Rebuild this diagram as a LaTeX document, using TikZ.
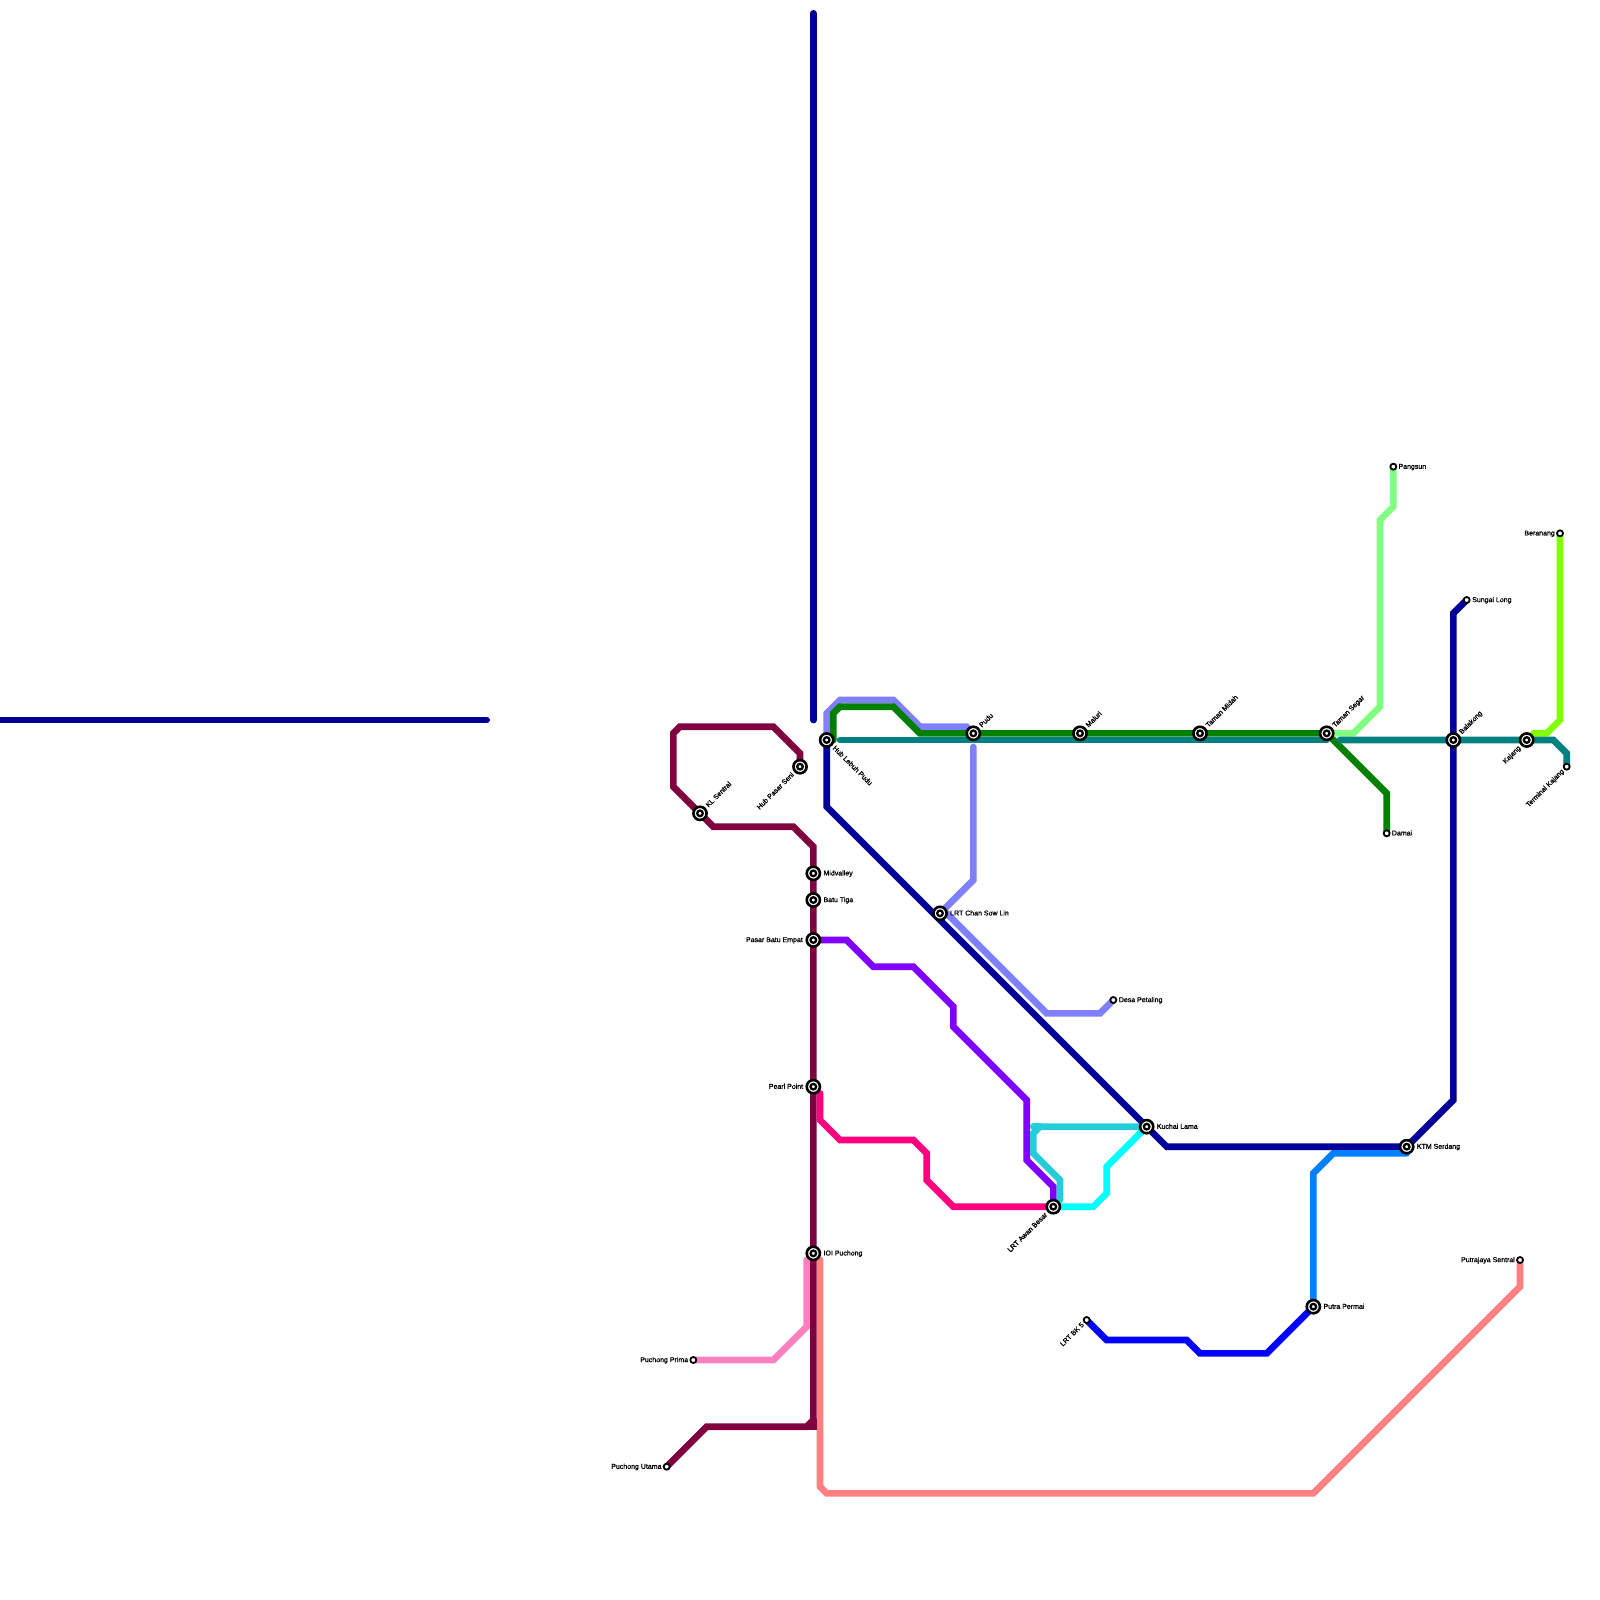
\documentclass[tikz,border=0pt]{standalone}
\usepackage{fontspec}
\setmainfont{Liberation Sans}
\newfontfamily\stationfont[FakeBold=1.2]{Liberation Sans}
\usetikzlibrary{backgrounds}
\definecolor{cNavy}{HTML}{000099}
\definecolor{cMaroon}{HTML}{800040}
\definecolor{cPeri}{HTML}{8080FF}
\definecolor{cGreen}{HTML}{008000}
\definecolor{cTeal}{HTML}{008080}
\definecolor{cLime}{HTML}{80FF00}
\definecolor{cMint}{HTML}{80FF80}
\definecolor{cPurple}{HTML}{8000FF}
\definecolor{cHot}{HTML}{FF0080}
\definecolor{cAqua}{HTML}{26CCD9}
\definecolor{cCyan}{HTML}{00FFFF}
\definecolor{cAzure}{HTML}{0080FF}
\definecolor{cBlue}{HTML}{0000FF}
\definecolor{cPink}{HTML}{FF80C0}
\definecolor{cSalmon}{HTML}{FF8080}
\tikzset{
  x=1pt,y=-1pt,
  rail/.style={line width=6.67pt,line cap=round,line join=miter,miter limit=4},
  hub/.style={circle,draw=black,fill=white,line width=2.6pt,minimum size=13.2pt,inner sep=0pt,
    path picture={\draw[black,line width=2.3pt] (path picture bounding box.center) circle[radius=2.8pt];}},
  halt/.style={circle,draw=black,fill=white,line width=1.8pt,minimum size=6pt,inner sep=0pt},
  tag/.style={inner sep=0pt,font=\stationfont\fontsize{7pt}{8pt}\selectfont,text height=4.2pt,text depth=0pt},
  tr/.style={tag,anchor=west},
  tl/.style={tag,anchor=east},
  tru/.style={tag,anchor=west,rotate=45},
  trd/.style={tag,anchor=west,rotate=-45},
  tld/.style={tag,anchor=east,rotate=45}
}
\begin{document}
\begin{tikzpicture}
\useasboundingbox (0,0) rectangle (1600,1600);
% stations
\node[hub] (lebuh) at (826.67,740) {};
\node[hub] (seni) at (800,766.67) {};
\node[hub] (kl) at (700,813.33) {};
\node[hub] (mid) at (813.33,873.33) {};
\node[hub] (batu) at (813.33,900) {};
\node[hub] (pasar) at (813.33,940) {};
\node[hub] (pearl) at (813.33,1086.67) {};
\node[hub] (ioi) at (813.33,1253.33) {};
\node[hub] (pudu) at (973.33,733.33) {};
\node[hub] (maluri) at (1080,733.33) {};
\node[hub] (midah) at (1200,733.33) {};
\node[hub] (segar) at (1326.67,733.33) {};
\node[hub] (balakong) at (1453.33,740) {};
\node[hub] (kajang) at (1526.67,740) {};
\node[hub] (chan) at (940,913.33) {};
\node[hub] (kuchai) at (1146.67,1126.67) {};
\node[hub] (awan) at (1053.33,1206.67) {};
\node[hub] (serdang) at (1406.67,1146.67) {};
\node[hub] (putra) at (1313.33,1306.67) {};
\node[halt] (termk) at (1566.67,766.67) {};
\node[halt] (beranang) at (1560,533.33) {};
\node[halt] (sungai) at (1466.67,600) {};
\node[halt] (damai) at (1386.67,833.33) {};
\node[halt] (pangsun) at (1393.33,466.67) {};
\node[halt] (desa) at (1113.33,1000) {};
\node[halt] (bk) at (1086.67,1320) {};
\node[halt] (putrajaya) at (1520,1260) {};
\node[halt] (prima) at (693.33,1360) {};
\node[halt] (utama) at (666.67,1466.67) {};
% free ends
\coordinate (northEnd) at (813.33,13.33);
\coordinate (northStop) at (813.33,720);
\coordinate (westEnd) at (-10,720);
\coordinate (westStop) at (486.67,720);
\begin{scope}[on background layer]
\draw[rail,cNavy] (northEnd) -- (northStop);
\draw[rail,cNavy] (westEnd) -- (westStop);
\draw[rail,cSalmon] (820,1260) -- (820,1486.67) -- (826.67,1493.33) -- (1313.33,1493.33) -- (1520,1286.67) -- (putrajaya.center);
\draw[rail,cPink] (prima.center) -- (773.33,1360) -- (806.67,1326.67) -- (806.67,1260);
\draw[rail,cMaroon] (seni.center) -- (800,753.33) -- (773.33,726.67) -- (680,726.67) -- (673.33,733.33) -- (673.33,786.67) -- (kl.center) -- (713.33,826.67) -- (793.33,826.67) -- (813.33,846.67) -- (mid.center) -- (batu.center) -- (pasar.center) -- (pearl.center) -- (ioi.center) -- (813.33,1420) -- (806.67,1426.67) -- (706.67,1426.67) -- (utama.center);
\draw[rail,cMaroon] (813.33,1420) -- (813.33,1426.67) -- (806.67,1426.67);
\draw[rail,cPeri] (lebuh.center) -- (826.67,713.33) -- (840,700) -- (893.33,700) -- (920,726.67) -- (966.67,726.67) -- (pudu.center);
\draw[rail,cPeri] (973.33,747) -- (973.33,880) -- (chan.center);
\draw[rail,cPeri] (946.67,913.33) -- (1046.67,1013.33) -- (1100,1013.33) -- (desa.center);
\draw[rail,cGreen] (833.33,740) -- (833.33,713.33) -- (840,706.67) -- (893.33,706.67) -- (920,733.33) -- (pudu.center) -- (maluri.center) -- (midah.center) -- (segar.center);
\draw[rail,cGreen] (segar.center) -- (1333.33,740) -- (1386.67,793.33) -- (damai.center);
\draw[rail,cMint] (pangsun.center) -- (1393.33,506.67) -- (1380,520) -- (1380,706.67) -- (1353.33,733.33) -- (segar.center);
\draw[rail,cLime] (beranang.center) -- (1560,720) -- (1546.67,733.33) -- (1533.33,733.33);
\draw[rail,cNavy] (lebuh.center) -- (826.67,806.67) -- (kuchai.center) -- (1166.67,1146.67) -- (serdang.center) -- (1453.33,1100) -- (balakong.center) -- (1453.33,613.33) -- (sungai.center);
\draw[rail,cTeal] (840,740) -- (segar.center |- lebuh);
\draw[rail,cTeal] (1340,740) -- (balakong.center) -- (kajang.center) -- (1553.33,740) -- (1566.67,753.33) -- (termk.center);
\draw[rail,cPurple] (pasar.center) -- (846.67,940) -- (873.33,966.67) -- (913.33,966.67) -- (953.33,1006.67) -- (953.33,1026.67) -- (1026.67,1100) -- (1026.67,1160) -- (1053.33,1186.67) -- (awan.center);
\draw[rail,cHot] (820,1093.33) -- (820,1120) -- (840,1140) -- (913.33,1140) -- (926.67,1153.33) -- (926.67,1180) -- (953.33,1206.67) -- (awan.center);
\draw[rail,cAqua] (kuchai.center) -- (1040,1126.67) -- (1033.33,1133.33) -- (1033.33,1153.33) -- (1060,1180) -- (1060,1200);
\draw[rail,cAqua] (1040,1126.67) -- (1033.33,1126.67);
\draw[rail,cCyan] (awan.center) -- (1093.33,1206.67) -- (1106.67,1193.33) -- (1106.67,1166.67) -- (kuchai.center);
\draw[rail,cAzure] (putra.center) -- (1313.33,1173.33) -- (1333.33,1153.33) -- (1406.67,1153.33);
\draw[rail,cBlue] (bk.center) -- (1106.67,1340) -- (1186.67,1340) -- (1200,1353.33) -- (1266.67,1353.33) -- (putra.center);
\end{scope}
% labels
\node[tr] (lMid) at (823.33,873.33) {Midvalley};
\node[tr] (lBatu) at (823.33,900) {Batu Tiga};
\node[tl] (lPasar) at (803,940) {Pasar Batu Empat};
\node[tl] (lPearl) at (803.33,1086.67) {Pearl Point};
\node[tr] (lIoi) at (823.33,1253.33) {IOI Puchong};
\node[trd] (lLebuh) at (833.67,747) {Hub Lebuh Pudu};
\node[tld] (lSeni) at (793,773.67) {Hub Pasar Seni};
\node[tru] (lKl) at (707,806.33) {KL Sentral};
\node[tru] (lPudu) at (980.33,726.33) {Pudu};
\node[tru] (lMaluri) at (1087,726.33) {Maluri};
\node[tru] (lMidah) at (1207,726.33) {Taman Midah};
\node[tru] (lSegar) at (1333.67,726.33) {Taman Segar};
\node[tru] (lBalakong) at (1460.33,733) {Balakong};
\node[tld] (lKajang) at (1519.67,747) {Kajang};
\node[tld] (lTermk) at (1563,770.33) {Terminal Kajang};
\node[tl] (lBeranang) at (1555,533.33) {Beranang};
\node[tr] (lSungai) at (1472,600) {Sungai Long};
\node[tr] (lDamai) at (1391.67,833.33) {Damai};
\node[tr] (lPangsun) at (1398.33,466.67) {Pangsun};
\node[tr] (lChan) at (950,913.33) {LRT Chan Sow Lin};
\node[tr] (lDesa) at (1118.67,1000) {Desa Petaling};
\node[tr] (lKuchai) at (1156.67,1126.67) {Kuchai Lama};
\node[tld] (lAwan) at (1046.33,1213.67) {LRT Awan Besar};
\node[tr] (lSerdang) at (1416.67,1146.67) {KTM Serdang};
\node[tr] (lPutra) at (1323.33,1306.67) {Putra Permai};
\node[tld] (lBk) at (1083,1323.67) {LRT BK 5};
\node[tl] (lPutrajaya) at (1515,1260) {Putrajaya Sentral};
\node[tl] (lPrima) at (688.33,1360) {Puchong Prima};
\node[tl] (lUtama) at (661.67,1466.67) {Puchong Utama};
\end{tikzpicture}
\end{document}
